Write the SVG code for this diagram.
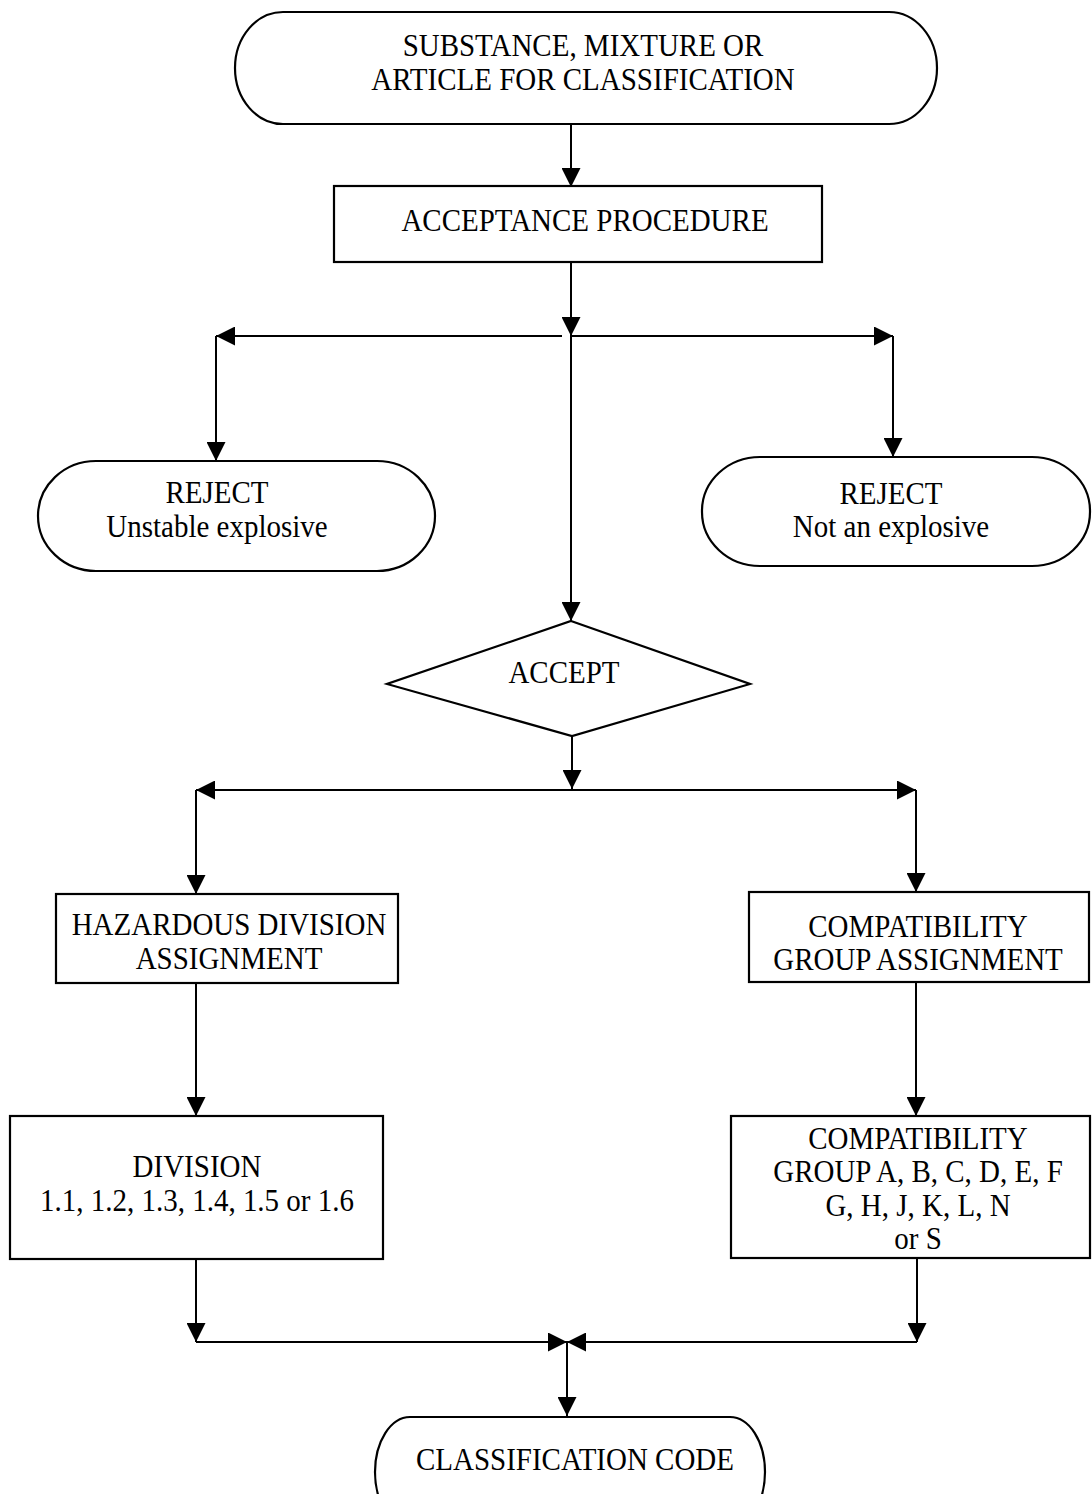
<svg xmlns="http://www.w3.org/2000/svg" width="1092" height="1494" viewBox="0 0 1092 1494">
<defs>
<style>
.shape{fill:#fff;stroke:#000;stroke-width:2.2}
.conn path{fill:none;stroke:#000;stroke-width:2;marker-end:url(#arrow)}
text{font-family:"Liberation Serif","Times New Roman",serif;font-size:31px;fill:#000;text-anchor:middle}
</style>
<marker id="arrow" viewBox="0 0 20 20" refX="20" refY="10" markerUnits="userSpaceOnUse" markerWidth="20" markerHeight="19" orient="auto">
<path d="M0,0 L20,10 L0,20 z" fill="#000"/>
</marker>
</defs>
<rect width="1092" height="1494" fill="#fff"/>

<g id="connectors" class="conn">
<path d="M571,124 V187"/>
<path d="M571,262 V336"/>
<path d="M562,336 H216"/>
<path d="M571,336 H893"/>
<path d="M216,336 V461"/>
<path d="M893,336 V457"/>
<path d="M571,336 V621"/>
<path d="M572,736 V789"/>
<path d="M572,790 H196"/>
<path d="M572,790 H916"/>
<path d="M196,790 V894"/>
<path d="M916,790 V892"/>
<path d="M196,983 V1116"/>
<path d="M916,982 V1116"/>
<path d="M196,1259 V1342"/>
<path d="M917,1258 V1342"/>
<path d="M196,1342 H567"/>
<path d="M917,1342 H567"/>
<path d="M567,1342 V1416"/>
</g>

<g id="start">
<rect class="shape" x="235" y="12" width="702" height="112" rx="48" ry="56"/>
<g transform="translate(583,0) scale(0.935,1)">
<text x="0" y="56">SUBSTANCE, MIXTURE OR</text>
<text x="0" y="90">ARTICLE FOR CLASSIFICATION</text>
</g>
</g>

<g id="acceptance">
<rect class="shape" x="334" y="186" width="488" height="76"/>
<g transform="translate(585,0) scale(0.935,1)">
<text x="0" y="231">ACCEPTANCE PROCEDURE</text>
</g>
</g>

<g id="reject-unstable">
<rect class="shape" x="38" y="461" width="397" height="110" rx="58" ry="55"/>
<g transform="translate(217,0) scale(0.935,1)">
<text x="0" y="503">REJECT</text>
<text x="0" y="537">Unstable explosive</text>
</g>
</g>

<g id="reject-not">
<rect class="shape" x="702" y="457" width="388" height="109" rx="58" ry="54"/>
<g transform="translate(891,0) scale(0.935,1)">
<text x="0" y="504">REJECT</text>
<text x="0" y="537">Not an explosive</text>
</g>
</g>

<g id="accept">
<polygon class="shape" points="571,621 750,684 572,736 387,684"/>
<g transform="translate(564,0) scale(0.935,1)">
<text x="0" y="683">ACCEPT</text>
</g>
</g>

<g id="hazard-division">
<rect class="shape" x="56" y="894" width="342" height="89"/>
<g transform="translate(229,0) scale(0.935,1)">
<text x="0" y="935">HAZARDOUS DIVISION</text>
<text x="0" y="969">ASSIGNMENT</text>
</g>
</g>

<g id="compat-assign">
<rect class="shape" x="749" y="892" width="340" height="90"/>
<g transform="translate(918,0) scale(0.935,1)">
<text x="0" y="937">COMPATIBILITY</text>
<text x="0" y="970">GROUP ASSIGNMENT</text>
</g>
</g>

<g id="division">
<rect class="shape" x="10" y="1116" width="373" height="143"/>
<g transform="translate(197,0) scale(0.935,1)">
<text x="0" y="1177">DIVISION</text>
<text x="0" y="1211">1.1, 1.2, 1.3, 1.4, 1.5 or 1.6</text>
</g>
</g>

<g id="compat-group">
<rect class="shape" x="731" y="1116" width="359" height="142"/>
<g transform="translate(918,0) scale(0.935,1)">
<text x="0" y="1149">COMPATIBILITY</text>
<text x="0" y="1182">GROUP A, B, C, D, E, F</text>
<text x="0" y="1216">G, H, J, K, L, N</text>
<text x="0" y="1249">or S</text>
</g>
</g>

<g id="classification-code">
<rect class="shape" x="375" y="1417" width="390" height="110" rx="35" ry="55"/>
<g transform="translate(575,0) scale(0.935,1)">
<text x="0" y="1470">CLASSIFICATION CODE</text>
</g>
</g>
</svg>
